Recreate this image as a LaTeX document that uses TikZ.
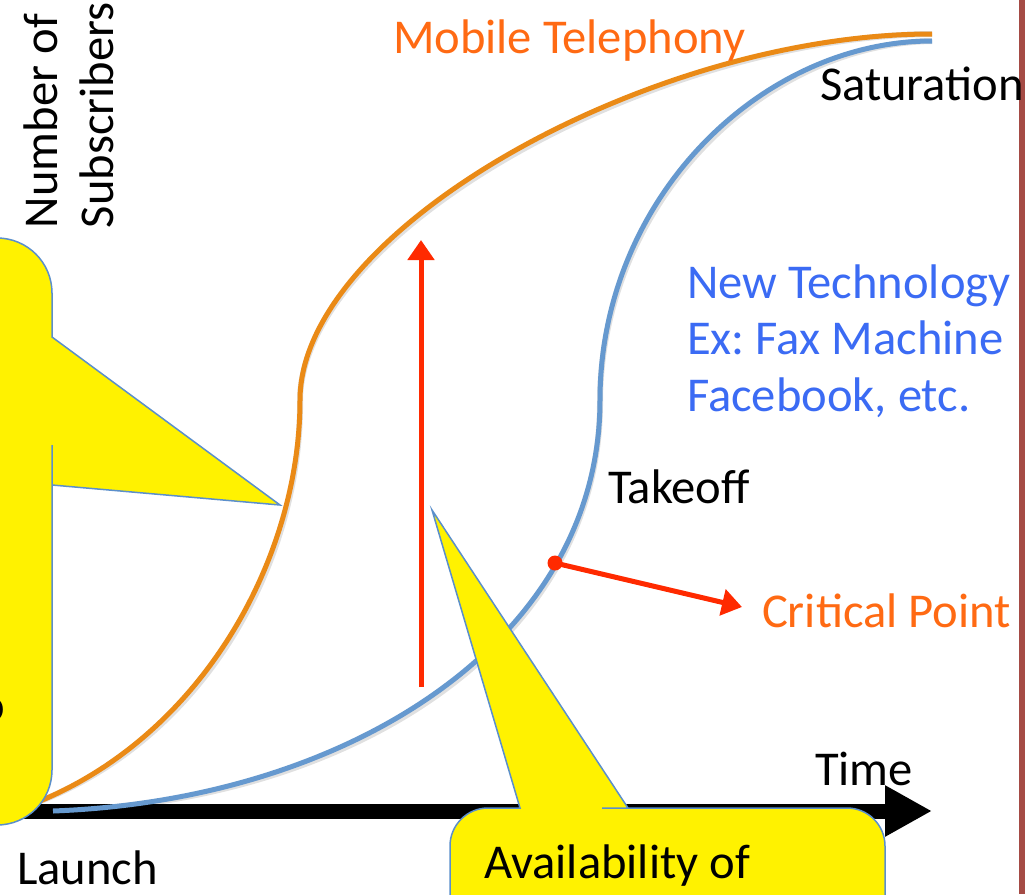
\documentclass[tikz,border=0pt]{standalone}
\usepackage{fontspec}
\setmainfont{Carlito}
\usetikzlibrary{arrows.meta}
\definecolor{orangeline}{HTML}{EA8A16}
\definecolor{blueline}{HTML}{6699CF}
\definecolor{redline}{HTML}{FF2A00}
\definecolor{orangetext}{HTML}{FF6A13}
\definecolor{bluetext}{HTML}{3B6BF4}
\definecolor{calloutedge}{HTML}{5B8FCB}
\definecolor{sidebar}{HTML}{A54B45}
\frenchspacing
\begin{document}
\begin{tikzpicture}[x=1pt,y=-1pt,
  every node/.style={inner sep=0pt, outer sep=0pt, font=\fontsize{48.6}{58}\selectfont},
  curveorange/.style={draw=orangeline, line width=5pt},
  curveblue/.style={draw=blueline, line width=5pt},
  curveshadow/.style={draw=black, opacity=0.12, line width=6pt},
  redarrow/.style={draw=redline, line width=5pt, -{Triangle[length=20pt,width=26pt]}},
  axisarrow/.style={draw=black, line width=15pt, -{Triangle[length=47pt,width=48pt]}},
  calloutbox/.style={fill=yellow, draw=calloutedge, line width=1.5pt, line join=miter},
  lbl/.style={anchor=base west}
]
\useasboundingbox (0,0) rectangle (1025,894);
\fill[white] (0,0) rectangle (1025,894);

% right side bar
\fill[sidebar] (1019,0) rectangle (1025,894);

% axis
\coordinate (axstart) at (-10,811);
\coordinate (axend) at (932,811);
\draw[axisarrow] (axstart) -- (axend);

% curve points
\coordinate (o0) at (30,805);
\coordinate (om) at (300,400);
\coordinate (o1) at (932,34);
\coordinate (b0) at (53,811);
\coordinate (bm) at (600,400);
\coordinate (b1) at (932,41);

% shadows
\begin{scope}[shift={(2,3)}]
\draw[curveshadow] (o0) .. controls (200,740) and (300,560) .. (om)
  .. controls (300,230) and (650,34) .. (o1);
\draw[curveshadow] (b0) .. controls (350,800) and (600,640) .. (bm)
  .. controls (600,200) and (760,41) .. (b1);
\end{scope}

% orange curve (Mobile Telephony)
\draw[curveorange] (o0) .. controls (200,740) and (300,560) .. (om)
  .. controls (300,230) and (650,34) .. (o1);

% blue curve (New Technology)
\draw[curveblue] (b0) .. controls (350,800) and (600,640) .. (bm)
  .. controls (600,200) and (760,41) .. (b1);

% red vertical arrow
\coordinate (rb) at (421,687);
\coordinate (rt) at (421,240);
\draw[redarrow] (rb) -- (rt);

% critical point
\node[circle, fill=redline, minimum size=15pt] (cp) at (555,563) {};
\coordinate (cptip) at (742,607);
\draw[redarrow] (cp.center) -- (cptip);

% left callout
\path[calloutbox] (280,505) -- (52,337) -- (52,330) [rounded corners=55pt] -- (52,238) -- (-100,238)
  -- (-100,825) -- (52,825) -- (52,500) [sharp corners] -- (52,485) -- cycle;
\node[anchor=base east] (frag) at (5,721) {o};

% bottom callout
\path[calloutbox] (432,510) -- (520,808) -- (510,808) [rounded corners=38pt] -- (450,808)
  -- (450,960) -- (885,960) -- (885,808) -- (640,808) [sharp corners] -- (628,808) -- cycle;
\node[lbl] (avail) at (484,878) {Availability of};

% texts
\node[lbl, text=orangetext] (mobile) at (393,53) {Mobile Telephony};
\node[lbl] (sat) at (820,100) {Saturation};
\node[lbl, text=bluetext] (nt1) at (687,298) {New Technology};
\node[lbl, text=bluetext] (nt2) at (687,354) {Ex: Fax Machine};
\node[lbl, text=bluetext] (nt3) at (687,411) {Facebook, etc.};
\node[lbl] (takeoff) at (608,503) {Takeoff};
\node[lbl, text=orangetext] (crit) at (762,627) {Critical Point};
\node[lbl] (time) at (815,785) {Time};
\node[lbl] (launch) at (17,884) {Launch};
\node[anchor=base west, rotate=90] (num) at (57,228) {Number of};
\node[anchor=base west, rotate=90] (subs) at (113,228) {Subscribers};
\end{tikzpicture}
\end{document}
